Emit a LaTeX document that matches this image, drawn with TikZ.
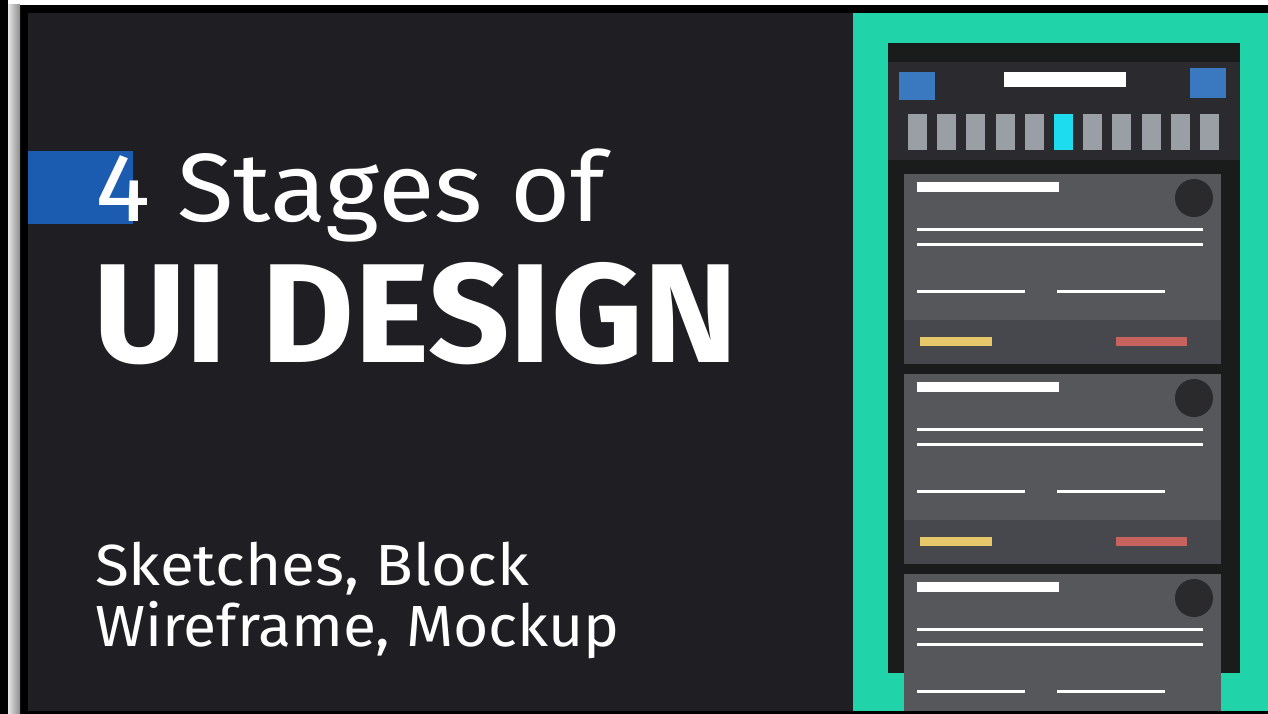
\documentclass[tikz,border=0pt]{standalone}
\usepackage{fontspec}
\setmainfont{Fira Sans}
\definecolor{panel}{HTML}{1F1F23}
\definecolor{teal}{HTML}{21D3A9}
\definecolor{frame}{HTML}{1A1C1C}
\definecolor{header}{HTML}{2B2B2F}
\definecolor{card}{HTML}{56575B}
\definecolor{cardfoot}{HTML}{47484D}
\definecolor{sqblue}{HTML}{3A78C0}
\definecolor{tabgray}{HTML}{9A9EA5}
\definecolor{tabcyan}{HTML}{1DDCF0}
\definecolor{dot}{HTML}{2A2A2D}
\definecolor{btnyellow}{HTML}{E6C76A}
\definecolor{btnred}{HTML}{C7635F}
\definecolor{accent}{HTML}{1C5CB0}
\tikzset{
  wline/.style={draw=white, line width=3pt},
  txt/.style={text=white, anchor=base west, inner sep=0pt, outer sep=0pt},
}
\begin{document}
\begin{tikzpicture}[x=1pt,y=-1pt]
\useasboundingbox (0,0) rectangle (1268,714);
% outer borders
\fill[black] (0,0) rectangle (1268,714);
\fill[white] (8,0) rectangle (1268,5);
\shade[left color=white!90!black, right color=white!55!black] (8,5) rectangle (20,714);
% left dark panel
\fill[panel] (28,13) rectangle (853,711);
% accent bar
\fill[accent] (28,151) rectangle (133,224);
% teal panel
\fill[teal] (853,13) rectangle (1268,711);
% phone frame
\fill[frame] (888,43) rectangle (1240,673);
\fill[header] (888,62) rectangle (1240,160);
% header elements
\fill[sqblue] (899,72) rectangle (935,100);
\fill[sqblue] (1190,68) rectangle (1226,98);
\fill[white] (1004,72) rectangle (1126,87);
% tabs
\foreach \i in {0,...,10} {
  \pgfmathsetmacro{\xx}{908+29.2*\i}
  \ifnum\i=5
    \fill[tabcyan] (\xx,114) rectangle ++(19,36);
  \else
    \fill[tabgray] (\xx,114) rectangle ++(19,36);
  \fi
}
% cards
\foreach \t in {174,374} {
  \fill[card] (904,\t) rectangle (1221,\t+190);
  \fill[cardfoot] (904,\t+146) rectangle (1221,\t+190);
  \fill[white] (917,\t+8) rectangle (1059,\t+18);
  \fill[dot] (1194,\t+24) circle (19);
  \draw[wline] (917,\t+55) -- (1203,\t+55);
  \draw[wline] (917,\t+70) -- (1203,\t+70);
  \draw[wline] (917,\t+117) -- (1025,\t+117);
  \draw[wline] (1057,\t+117) -- (1165,\t+117);
  \fill[btnyellow] (920,\t+163) rectangle (992,\t+172);
  \fill[btnred] (1116,\t+163) rectangle (1187,\t+172);
}
% third card (cut off)
\fill[card] (904,574) rectangle (1221,711);
\fill[white] (917,582) rectangle (1059,592);
\fill[dot] (1194,598) circle (19);
\draw[wline] (917,629) -- (1203,629);
\draw[wline] (917,644) -- (1203,644);
\draw[wline] (917,691) -- (1025,691);
\draw[wline] (1057,691) -- (1165,691);
% texts
\node[txt, font=\fontsize{97}{97}\selectfont] (t1) at (95,222) {\scalebox{1.067}[1]{4 Stages of}};
\node[txt, font=\fontsize{141}{141}\selectfont\bfseries] (t2) at (93,362) {\scalebox{1.012}[1]{UI DESIGN}};
\node[txt, font=\fontsize{58}{58}\selectfont] (t3) at (95,585) {\scalebox{1.07}[1]{Sketches, Block}};
\node[txt, font=\fontsize{58}{58}\selectfont] (t4) at (95,646) {\scalebox{1.045}[1]{Wireframe, Mockup}};
\end{tikzpicture}
\end{document}
